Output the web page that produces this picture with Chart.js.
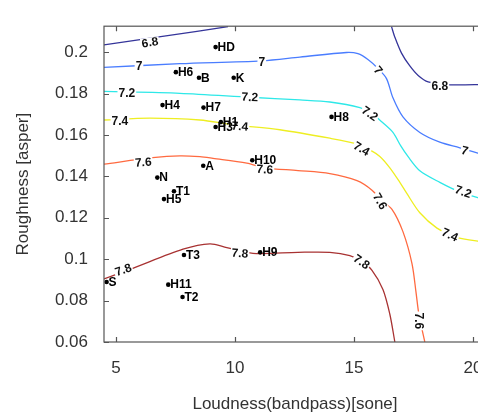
<!DOCTYPE html>
<html><head><meta charset="utf-8">
<script src="https://cdn.jsdelivr.net/npm/chart.js@4/dist/chart.umd.min.js"></script>
<style>
html,body{margin:0;padding:0;background:#fff;overflow:hidden;}
#wrap{width:500px;height:413px;}
</style></head>
<body>
<div id="wrap"><canvas id="c" width="500" height="413"></canvas></div>
<script>
// ---- data ----
const xTicks = [5, 10, 15, 20];
const yTicks = [0.06, 0.08, 0.1, 0.12, 0.14, 0.16, 0.18, 0.2];
const yTickLabels = ['0.06', '0.08', '0.1', '0.12', '0.14', '0.16', '0.18', '0.2'];

const pointNames = ['HD','H6','B','K','H4','H7','H1','H3','H8','A','H10','N','T1','H5','T3','H9','S','H11','T2'];
const pointX = [9.19, 7.52, 8.49, 9.95, 6.96, 8.68, 9.41, 9.19, 14.06, 8.67, 10.73, 6.74, 7.44, 7.02, 7.86, 11.06, 4.61, 7.20, 7.80];
const pointY = [0.2024, 0.1903, 0.1876, 0.1876, 0.1744, 0.1732, 0.1662, 0.1638, 0.1687, 0.1451, 0.1478, 0.1394, 0.1328, 0.1290, 0.1020, 0.1033, 0.0890, 0.0877, 0.0817];

const levels = ['6.8', '6.8', '7', '7.2', '7.4', '7.6', '7.8'];
const c68a = [[4.5,0.2035],[7.10,0.2078],[9.71,0.2123]];
const c68b = [[16.58,0.2123],[16.72,0.2072],[17.00,0.1995],[17.35,0.1933],[17.70,0.1887],[18.12,0.1856],[19.03,0.1842],[20.55,0.1844]];
const c70 = [[4.5,0.1926],[7.69,0.1944],[11.13,0.1958],[12.73,0.1976],[14.69,0.1998],[15.17,0.1992],[15.59,0.1964],[16.01,0.1921],[16.37,0.1872],[16.64,0.1779],[17.06,0.1687],[17.77,0.1612],[18.61,0.1565],[19.45,0.1538],[20.55,0.1500]];
const c72 = [[4.5,0.1810],[7.69,0.1801],[10.63,0.1782],[12.73,0.1769],[13.99,0.1759],[15.25,0.1732],[15.76,0.1704],[16.18,0.1662],[16.64,0.1612],[16.97,0.1547],[17.27,0.1496],[17.77,0.1427],[18.61,0.1371],[19.45,0.1325],[20.55,0.1285]];
const c74 = [[4.5,0.1672],[6.43,0.1681],[8.53,0.1672],[9.92,0.1649],[11.89,0.1625],[13.99,0.1584],[15.13,0.1556],[15.67,0.1528],[16.09,0.1496],[16.51,0.1441],[16.93,0.1371],[17.23,0.1316],[17.77,0.1224],[18.49,0.1150],[19.24,0.1108],[20.55,0.1080]];
const c76 = [[4.5,0.1459],[6.55,0.1490],[7.69,0.1499],[8.53,0.1495],[9.08,0.1487],[10.50,0.1464],[11.26,0.1441],[12.65,0.1428],[13.99,0.1413],[15.13,0.1379],[15.76,0.1333],[16.18,0.1279],[16.60,0.1241],[17.06,0.1133],[17.44,0.0979],[17.61,0.0840],[17.73,0.0734],[17.98,0.0600]];
const c78 = [[4.5,0.0905],[5.71,0.0956],[7.82,0.1048],[8.95,0.1074],[9.66,0.1056],[10.76,0.1028],[12.65,0.1033],[13.99,0.1033],[14.83,0.1017],[15.34,0.0988],[15.76,0.0946],[16.22,0.0854],[16.51,0.0734],[16.72,0.0600]];

const labelText = ['6.8','6.8','7','7','7','7','7.2','7.2','7.2','7.2','7.4','7.4','7.4','7.4','7.6','7.6','7.6','7.6','7.8','7.8','7.8'];
const labelX = [6.43,18.61,5.97,11.13,16.01,19.66,5.46,10.63,15.67,19.59,5.17,10.21,15.32,19.03,6.15,11.26,16.09,17.74,5.31,10.21,15.32];
const labelY = [0.2046,0.1833,0.1930,0.1949,0.1912,0.1524,0.1802,0.1782,0.1703,0.1325,0.1664,0.1641,0.1533,0.1117,0.1468,0.1433,0.1279,0.0702,0.0948,0.1028,0.0987];
const labelAngle = [-9,0,0,0,50,15,0,3,35,20,0,5,30,25,-4,3,60,90,-20,5,35];

// ---- chart ----
const FONT = "'Liberation Sans', Arial, sans-serif";
const colors = ['#35359a', '#35359a', '#4a7dff', '#2ee8e8', '#eeee22', '#ff6a40', '#a83232'];
const series = [c68a, c68b, c70, c72, c74, c76, c78];
const toXY = a => a.map(p => ({x: p[0], y: p[1]}));

const datasets = series.map((s, i) => ({
  type: 'line', label: levels[i], data: toXY(s),
  borderColor: colors[i], borderWidth: 1.3, pointRadius: 0, tension: 0.3, fill: false, order: 2
}));
datasets.push({
  type: 'scatter', label: 'pts', data: pointX.map((x, i) => ({x, y: pointY[i]})),
  backgroundColor: '#000', borderColor: '#000', pointRadius: 2.3, borderWidth: 0, order: 1
});

const framePlugin = {
  id: 'frame',
  afterDraw(chart) {
    const {ctx, chartArea: a, scales} = chart;
    ctx.save();
    ctx.strokeStyle = '#555';
    ctx.lineWidth = 1.2;
    ctx.strokeRect(a.left, a.top, a.right - a.left, a.bottom - a.top);
    const L = 5;
    ctx.beginPath();
    xTicks.forEach(v => {
      const px = Math.round(scales.x.getPixelForValue(v)) + 0.5;
      ctx.moveTo(px, a.bottom); ctx.lineTo(px, a.bottom - L);
      ctx.moveTo(px, a.top); ctx.lineTo(px, a.top + L);
    });
    yTicks.forEach(v => {
      const py = Math.round(scales.y.getPixelForValue(v)) + 0.5;
      ctx.moveTo(a.left, py); ctx.lineTo(a.left + L, py);
      ctx.moveTo(a.right, py); ctx.lineTo(a.right - L, py);
    });
    ctx.stroke();
    ctx.restore();
  }
};

const labelPlugin = {
  id: 'labels',
  afterDatasetsDraw(chart) {
    const {ctx, scales} = chart;
    ctx.save();
    ctx.font = 'bold 12px ' + FONT;
    ctx.textBaseline = 'middle';
    // contour labels
    labelText.forEach((t, i) => {
      const px = scales.x.getPixelForValue(labelX[i]);
      const py = scales.y.getPixelForValue(labelY[i]);
      ctx.save();
      ctx.translate(px, py);
      ctx.rotate(labelAngle[i] * Math.PI / 180);
      const w = ctx.measureText(t).width;
      ctx.fillStyle = '#fff';
      ctx.fillRect(-w / 2 - 1, -5, w + 2, 10);
      ctx.fillStyle = '#111';
      ctx.textAlign = 'center';
      ctx.fillText(t, 0, 0.5);
      ctx.restore();
    });
    // point labels
    ctx.textAlign = 'left';
    ctx.fillStyle = '#000';
    pointNames.forEach((n, i) => {
      const px = scales.x.getPixelForValue(pointX[i]);
      const py = scales.y.getPixelForValue(pointY[i]);
      ctx.fillText(n, px + 2, py + 0.5);
    });
    ctx.restore();
  }
};

new Chart(document.getElementById('c'), {
  data: {datasets},
  options: {
    responsive: false, animation: false,
    layout: {padding: {top: 12, right: 14, left: 0, bottom: 0}},
    plugins: {legend: {display: false}, tooltip: {enabled: false}},
    scales: {
      x: {
        type: 'linear', min: 4.5, max: 20.55,
        afterBuildTicks: s => { s.ticks = xTicks.map(v => ({value: v})); },
        afterFit: s => { s.height = 71; },
        grid: {display: false, drawTicks: false},
        border: {display: false},
        ticks: {padding: 16, color: '#333', font: {family: FONT, size: 17}, maxRotation: 0, autoSkip: false,
                callback: v => String(v)},
        title: {display: true, text: 'Loudness(bandpass)[sone]', color: '#333',
                font: {family: FONT, size: 17, lineHeight: 1.0}, padding: {top: 0, bottom: 0}}
      },
      y: {
        type: 'linear', min: 0.06, max: 0.2125,
        afterBuildTicks: s => { s.ticks = yTicks.map(v => ({value: v})); },
        afterFit: s => { s.width = 104; },
        grid: {display: false, drawTicks: false},
        border: {display: false},
        ticks: {padding: 16, color: '#333', font: {family: FONT, size: 17}, autoSkip: false,
                callback: (v) => yTickLabels[yTicks.indexOf(v)] ?? ''},
        title: {display: true, text: 'Roughness [asper]', color: '#333',
                font: {family: FONT, size: 17, lineHeight: 1.2}, padding: {top: 13, bottom: 0}}
      }
    }
  },
  plugins: [framePlugin, labelPlugin]
});
</script>
</body></html>
